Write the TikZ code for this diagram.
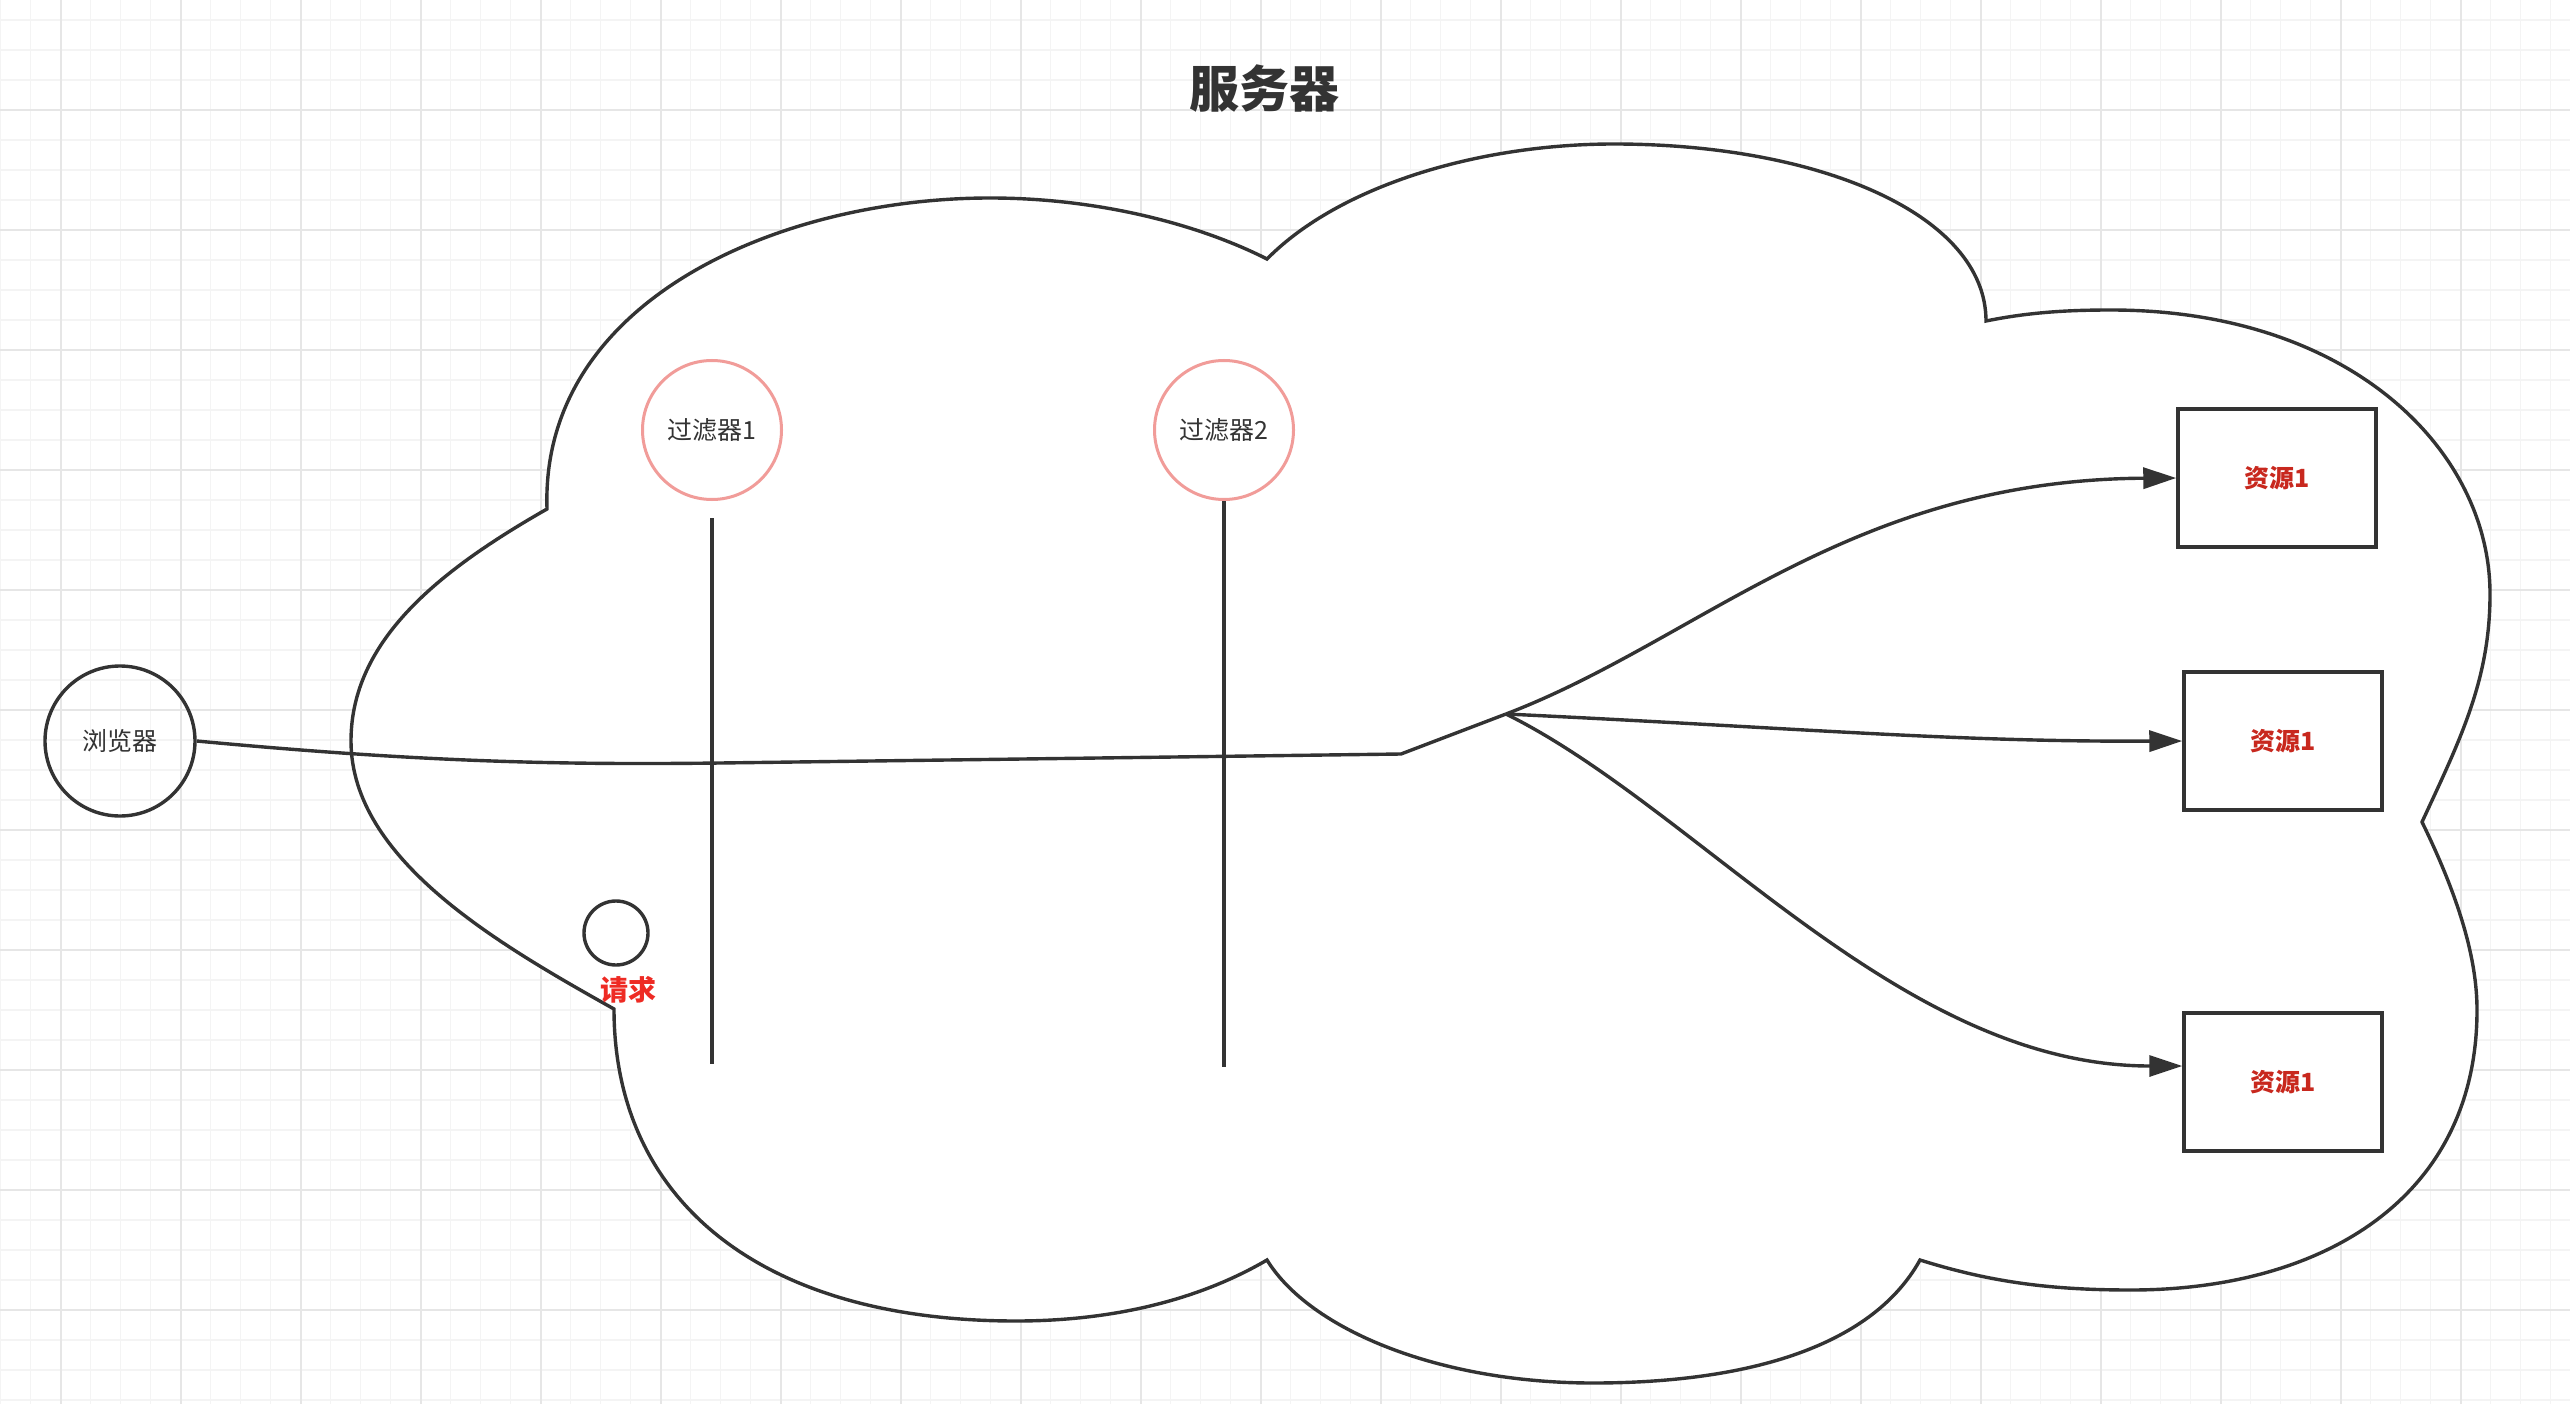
\documentclass[tikz,border=0pt]{standalone}
\usepackage{fontspec}
\usetikzlibrary{arrows.meta}
\newfontfamily\cjk{Noto Sans CJK SC}
\definecolor{linecol}{HTML}{333333}
\definecolor{filterpink}{HTML}{F19C99}
\definecolor{resred}{HTML}{C8281E}
\definecolor{reqred}{HTML}{EE2B24}
\definecolor{gridminor}{HTML}{F4F4F4}
\definecolor{gridmajor}{HTML}{E6E6E6}

\begin{document}
\begin{tikzpicture}[x=1pt,y=-1pt,
  every node/.style={font=\cjk\fontsize{25}{29}\selectfont,text=linecol},
  filter/.style={circle,draw=filterpink,line width=3pt,minimum size=139pt,inner sep=0pt},
  resource/.style={rectangle,draw=linecol,line width=3.5pt,minimum width=198pt,minimum height=138pt,
    text=resred,font=\cjk\bfseries\fontsize{25}{29}\selectfont},
  wire/.style={draw=linecol,line width=3.4pt},
  flow/.style={wire,-{Triangle[length=33pt,width=21pt]}}]

\useasboundingbox (0,0) rectangle (2570,1404);

% Grade de fundo
\fill[white] (0,0) rectangle (2570,1404);
\foreach \x in {0.5,30.5,...,2570} \draw[gridminor,line width=1.5pt] (\x,0) -- (\x,1404);
\foreach \y in {20,50,...,1404} \draw[gridminor,line width=1.5pt] (0,\y) -- (2570,\y);
\foreach \x in {60.5,180.5,...,2570} \draw[gridmajor,line width=2pt] (\x,0) -- (\x,1404);
\foreach \y in {110,230,...,1404} \draw[gridmajor,line width=2pt] (0,\y) -- (2570,\y);

% 服务器 (nuvem)
\draw[wire,fill=white] (547,509) .. controls (540,300) and (780,198) .. (990,198)
  .. controls (1100,198) and (1200,225) .. (1267,259)
  .. controls (1340,185) and (1480,144) .. (1614,144)
  .. controls (1820,144) and (1986,215) .. (1986,321)
  .. controls (2030,312) and (2070,310) .. (2111,310)
  .. controls (2350,310) and (2490,450) .. (2490,594)
  .. controls (2490,680) and (2460,740) .. (2422,822)
  .. controls (2460,900) and (2477,960) .. (2477,1010)
  .. controls (2477,1200) and (2320,1290) .. (2131,1290)
  .. controls (2050,1290) and (1990,1282) .. (1920,1260)
  .. controls (1870,1350) and (1740,1383) .. (1593,1383)
  .. controls (1440,1383) and (1310,1330) .. (1267,1260)
  .. controls (1190,1305) and (1100,1321) .. (1016,1321)
  .. controls (760,1321) and (614,1200) .. (614,1009)
  .. controls (500,945) and (351,860) .. (351,741)
  .. controls (351,640) and (440,570) .. (547,509) -- cycle;
\node at (1264,89) [font=\cjk\bfseries\fontsize{50}{56}\selectfont] (title) {服务器};

% 浏览器
\node at (120,741) [circle,draw=linecol,line width=3.4pt,minimum size=150pt,inner sep=0pt] (browser) {浏览器};

% 过滤器
\node at (712,430) [filter] (f1) {过滤器1};
\node at (1224,430) [filter] (f2) {过滤器2};
\coordinate (f1end) at (712,1064);
\coordinate (f2end) at (1224,1067);
\draw[wire] ([yshift=-17pt]f1.south) -- (f1end);
\draw[wire] (f2.south) -- (f2end);

% 请求
\node at (616,933) [circle,draw=linecol,line width=3.4pt,minimum size=64pt,inner sep=0pt] (req) {};
\node at (628,990) [text=reqred,font=\cjk\bfseries\fontsize{28}{32}\selectfont] (reqlabel) {请求};

% 资源
\node at (2277,478) [resource] (res1) {资源1};
\node at (2283,741) [resource] (res2) {资源1};
\node at (2283,1082) [resource] (res3) {资源1};

% Caminho do pedido
\coordinate (bend) at (1401,754);
\coordinate (fork) at (1506,714);
\draw[wire] (browser.east) .. controls (420,762) and (560,765) .. (720,763) -- (bend) -- (fork);
\draw[flow] (fork) .. controls (1700,640) and (1850,480) .. (res1.west);
\draw[flow] (fork) .. controls (1800,728) and (1950,742) .. (res2.west);
\draw[flow] (fork) .. controls (1700,810) and (1900,1066) .. ([yshift=16pt]res3.west);

\end{tikzpicture}
\end{document}
